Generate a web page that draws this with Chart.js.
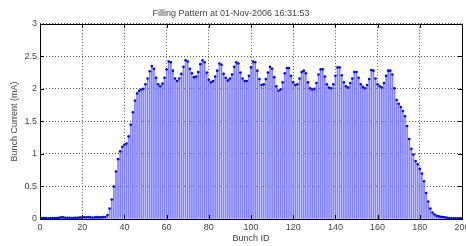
<!DOCTYPE html>
<html>
<head>
<meta charset="utf-8">
<script src="https://cdn.jsdelivr.net/npm/chart.js@4/dist/chart.umd.min.js"></script>
<style>
  html, body { margin: 0; padding: 0; background: #fff; }
  #wrap { width: 466px; height: 246px; }
</style>
</head>
<body>
<div id="wrap"><canvas id="chart" width="466" height="246"></canvas></div>
<script>
// bunch current (mA) for bunch 0..200
const bunchCurrent = [
  0.01, 0.015, 0.015, 0.015, 0.01, 0.015, 0.015, 0.015, 0.015, 0.02,
  0.025, 0.025, 0.02, 0.02, 0.02, 0.015, 0.02, 0.02, 0.02, 0.025,
  0.02, 0.03, 0.025, 0.03, 0.025, 0.02, 0.025, 0.025, 0.025, 0.025,
  0.03, 0.03, 0.06, 0.16, 0.30, 0.50, 0.73, 0.92, 1.04, 1.11,
  1.14, 1.16, 1.27, 1.45, 1.64, 1.82, 1.93, 1.97, 1.99, 2.00,
  2.07, 2.16, 2.27, 2.35, 2.31, 2.17, 2.07, 2.04, 2.08, 2.17,
  2.30, 2.42, 2.41, 2.28, 2.16, 2.12, 2.16, 2.23, 2.34, 2.44,
  2.42, 2.31, 2.24, 2.18, 2.19, 2.26, 2.38, 2.44, 2.41, 2.25,
  2.14, 2.10, 2.12, 2.19, 2.28, 2.39, 2.37, 2.23, 2.17, 2.13,
  2.16, 2.22, 2.34, 2.41, 2.39, 2.25, 2.16, 2.12, 2.12, 2.20,
  2.33, 2.42, 2.41, 2.28, 2.15, 2.06, 2.07, 2.15, 2.25, 2.34,
  2.31, 2.18, 2.04, 1.97, 1.99, 2.10, 2.24, 2.32, 2.32, 2.20,
  2.10, 2.06, 2.07, 2.16, 2.26, 2.28, 2.24, 2.10, 2.01, 1.99,
  2.00, 2.09, 2.22, 2.30, 2.30, 2.19, 2.07, 2.02, 2.01, 2.07,
  2.20, 2.33, 2.33, 2.21, 2.10, 2.04, 2.02, 2.09, 2.16, 2.26,
  2.26, 2.17, 2.07, 2.03, 2.01, 2.06, 2.15, 2.29, 2.28, 2.16,
  2.07, 2.04, 2.02, 2.09, 2.20, 2.28, 2.28, 2.22, 2.01, 1.83,
  1.77, 1.72, 1.66, 1.58, 1.43, 1.23, 1.08, 0.99, 0.89, 0.84,
  0.77, 0.70, 0.58, 0.40, 0.27, 0.16, 0.10, 0.07, 0.05, 0.04,
  0.035, 0.03, 0.025, 0.02, 0.015, 0.01, 0.01, 0.01, 0.01, 0.01,
  0.01
];
const bunchIds = bunchCurrent.map((v, i) => i);

const xTicks = [0, 20, 40, 60, 80, 100, 120, 140, 160, 180, 200];
const yTicks = [0, 0.5, 1, 1.5, 2, 2.5, 3];

const titleText = 'Filling Pattern at 01-Nov-2006 16:31:53';
const xTitle = 'Bunch ID';
const yTitle = 'Bunch Current (mA)';

const points = bunchIds.map((id, i) => ({ x: id, y: bunchCurrent[i] }));

// matlab-style box with inward ticks
const framePlugin = {
    id: 'frame',
    afterDraw(chart) {
        const { ctx, chartArea: a, scales } = chart;
        ctx.save();
        ctx.strokeStyle = '#000';
        ctx.lineWidth = 1;
        ctx.strokeRect(Math.round(a.left) + 0.5, Math.round(a.top) + 0.5,
            Math.round(a.right - a.left), Math.round(a.bottom - a.top));
        ctx.beginPath();
        xTicks.forEach(v => {
            const px = Math.round(scales.x.getPixelForValue(v)) + 0.5;
            ctx.moveTo(px, a.bottom); ctx.lineTo(px, a.bottom - 4);
            ctx.moveTo(px, a.top); ctx.lineTo(px, a.top + 4);
        });
        yTicks.forEach(v => {
            const py = Math.round(scales.y.getPixelForValue(v)) + 0.5;
            ctx.moveTo(a.left, py); ctx.lineTo(a.left + 4, py);
            ctx.moveTo(a.right, py); ctx.lineTo(a.right - 4, py);
        });
        ctx.stroke();
        ctx.restore();
    }
};

const font = { family: "'Liberation Sans', Arial, sans-serif", size: 9, weight: 'normal' };

new Chart(document.getElementById('chart'), {
    type: 'bar',
    data: {
        datasets: [
            {
                type: 'line', data: points, showLine: false, order: 0,
                pointRadius: 1.3, pointBackgroundColor: '#0000ff', pointBorderWidth: 0
            },
            {
                type: 'bar', data: points, order: 1,
                backgroundColor: '#8080ff', barThickness: 1
            }
        ]
    },
    plugins: [framePlugin],
    options: {
        responsive: false,
        animation: false,
        devicePixelRatio: 1,
        layout: { padding: { left: 0, right: 4, top: 0, bottom: 0 } },
        plugins: {
            legend: { display: false },
            tooltip: { enabled: false },
            title: {
                display: true, text: titleText, color: '#444',
                font: font, padding: { top: 8, bottom: 5 }
            }
        },
        scales: {
            x: {
                type: 'linear', min: 0, max: 200, offset: false,
                afterBuildTicks: s => { s.ticks = xTicks.map(v => ({ value: v })); },
                afterFit: s => { s.height = 27; s.paddingLeft = 0; s.paddingRight = 0; },
                grid: { color: '#555', drawTicks: false, offset: false },
                border: { display: false, dash: [1, 2] },
                ticks: { color: '#444', font: font, padding: 3, maxRotation: 0 },
                title: { display: true, text: xTitle, color: '#444', font: font, padding: { top: 0, bottom: 2 } }
            },
            y: {
                min: 0, max: 3,
                afterBuildTicks: s => { s.ticks = yTicks.map(v => ({ value: v })); },
                afterFit: s => { s.width = 40; },
                grid: { color: '#555', drawTicks: false },
                border: { display: false, dash: [1, 2] },
                ticks: { color: '#444', font: font, padding: 3, callback: v => String(v) },
                title: { display: true, text: yTitle, color: '#444', font: font, padding: { top: 9, bottom: 0 } }
            }
        }
    }
});
</script>
</body>
</html>
